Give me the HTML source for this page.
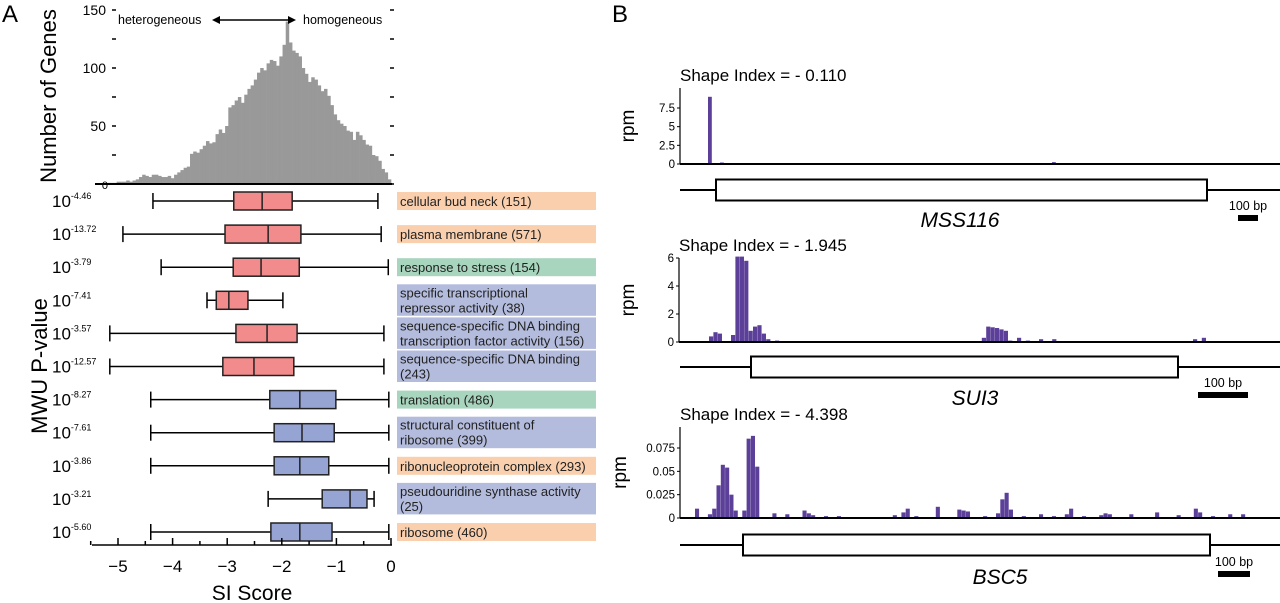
<!DOCTYPE html>
<html><head><meta charset="utf-8"><style>
html,body{margin:0;padding:0;background:#fff}
svg{display:block;font-family:"Liberation Sans",Arial,sans-serif}
</style></head><body>
<svg id="fig" width="1280" height="603" viewBox="0 0 1280 603"></svg>
<script>
// ---- Panel A data ----
const histCounts=[1,1,1,2,2,2,3,2,3,4,6,8,7,6,8,8,7,6,6,7,5,8,10,12,14,15,26,28,27,30,33,37,35,36,43,47,44,50,66,68,72,75,70,77,82,85,90,96,100,98,104,107,106,102,110,120,140,122,115,113,110,100,95,88,92,90,85,80,82,76,68,60,55,52,50,46,45,38,45,42,38,34,33,25,24,20,13,10,4];
const histMin=-5.2, histMax=0;
const histTicks=[0,50,100,150];
const siTicks=[-5,-4,-3,-2,-1,0];
const categories=["cellular bud neck (151)","plasma membrane (571)","response to stress (154)","specific transcriptional|repressor activity (38)","sequence-specific DNA binding|transcription factor activity (156)","sequence-specific DNA binding|(243)","translation (486)","structural constituent of|ribosome (399)","ribonucleoprotein complex (293)","pseudouridine synthase activity|(25)","ribosome (460)"];
const catType=["cc","cc","bp","mf","mf","mf","bp","mf","cc","mf","cc"];
const pExp=["-4.46","-13.72","-3.79","-7.41","-3.57","-12.57","-8.27","-7.61","-3.86","-3.21","-5.60"];
const whiskLo=[-4.36,-4.91,-4.21,-3.37,-5.15,-5.15,-4.40,-4.40,-4.40,-2.25,-4.40];
const q1=[-2.88,-3.04,-2.89,-3.20,-2.84,-3.08,-2.22,-2.14,-2.14,-1.26,-2.20];
const med=[-2.36,-2.25,-2.38,-2.97,-2.27,-2.51,-1.67,-1.63,-1.67,-0.75,-1.67];
const q3=[-1.81,-1.65,-1.68,-2.62,-1.72,-1.78,-1.01,-1.04,-1.14,-0.44,-1.08];
const whiskHi=[-0.24,-0.18,-0.05,-1.98,-0.13,-0.13,-0.04,-0.04,-0.04,-0.31,-0.04];
const boxGroup=["r","r","r","r","r","r","b","b","b","b","b"];
// ---- Panel B data (bin positions in bp-bins, values in rpm) ----
const t1Pos=[0,3,60,86,125];
const t1Val=[9,0.2,0.05,0.25,0.05];
const t2Pos=[0,1,2,5,6,7,8,9,10,11,12,13,15,20,30,40,50,62,63,64,65,66,67,68,70,72,75,78,80,85,95,110,112,118];
const t2Val=[0.4,0.7,0.6,0.5,6.1,6.1,5.8,0.8,1.1,1.2,0.6,0.2,0.1,0.05,0.05,0.05,0.05,0.3,1.1,1.05,1.0,0.9,0.8,0.1,0.3,0.1,0.2,0.2,0.05,0.05,0.05,0.2,0.3,0.05];
const t3Pos=[0,3,4,5,6,7,8,9,11,12,13,14,18,21,25,26,27,30,33,46,48,49,51,56,61,62,63,67,70,71,72,73,76,80,83,86,87,90,94,95,96,101,107,112,116,117,120,124,127];
const t3Val=[0.01,0.004,0.01,0.035,0.057,0.054,0.025,0.008,0.008,0.085,0.088,0.055,0.005,0.004,0.008,0.005,0.003,0.002,0.002,0.003,0.006,0.01,0.002,0.012,0.009,0.008,0.007,0.002,0.005,0.02,0.027,0.009,0.002,0.004,0.002,0.004,0.01,0.002,0.003,0.005,0.004,0.004,0.006,0.003,0.01,0.006,0.002,0.004,0.004];

const NS="http://www.w3.org/2000/svg";
const svg=document.getElementById('fig');
function mk(tag,attrs,parent,text){const e=document.createElementNS(NS,tag);for(const k in attrs)e.setAttribute(k,attrs[k]);if(text!==undefined)e.textContent=text;(parent||svg).appendChild(e);return e;}

const sx=v=>391+v*54.6;
const hy=c=>184-c*1.16;

let t=mk('text',{x:2,y:22,'font-size':24},svg,'A');

t=mk('text',{x:612,y:22,'font-size':24},svg,'B');


// histogram
const hg=mk('g',{});

const bw=(histMax-histMin)/histCounts.length;
histCounts.forEach((c,i)=>{
  const x0=sx(histMin+i*bw),x1=sx(histMin+(i+1)*bw);
  const r=mk('rect',{x:x0,y:hy(c),width:x1-x0+0.3,height:hy(0)-hy(c),fill:'#999'},hg);
  
});
let l=mk('line',{x1:95,x2:392,y1:184,y2:184,stroke:'#000','stroke-width':2});

[0,25,50,75,100,125,150].forEach(v=>{
  mk('line',{x1:112,x2:116,y1:hy(v),y2:hy(v),stroke:'#000','stroke-width':1.5});
  mk('line',{x1:390,x2:394,y1:hy(v),y2:hy(v),stroke:'#000','stroke-width':1.5});
});
histTicks.forEach(v=>{
  const e=mk('text',{x:v===0?108:106,y:hy(v)+5,'font-size':v===0?11:14,'text-anchor':'end'},svg,String(v));
  
});
t=mk('text',{x:0,y:0,'font-size':22,'text-anchor':'middle',transform:'translate(56,96) rotate(-90)'},svg,'Number of Genes');

t=mk('text',{x:118,y:24,'font-size':12.5},svg,'heterogeneous');

t=mk('text',{x:303,y:24,'font-size':12.5},svg,'homogeneous');

l=mk('line',{x1:215,x2:293,y1:20,y2:20,stroke:'#000','stroke-width':1.5});

mk('path',{d:'M212 20 L220 16 L220 24Z M296 20 L288 16 L288 24Z',fill:'#000'});

// boxplots
const colors={cc:'#f9cfad',bp:'#a8d5bd',mf:'#b4bcdd'};
const boxFill={r:'#f28b8b',b:'#96a4d4'};
const dbl=categories.map(c=>c.includes('|'));
categories.forEach((c,i)=>{
  const y=201+i*33.1;
  const g=mk('g',{});
  
  mk('line',{x1:sx(whiskLo[i]),x2:sx(whiskHi[i]),y1:y,y2:y,stroke:'#000','stroke-width':1.5},g);
  mk('line',{x1:sx(whiskLo[i]),x2:sx(whiskLo[i]),y1:y-8,y2:y+8,stroke:'#000','stroke-width':1.5},g);
  mk('line',{x1:sx(whiskHi[i]),x2:sx(whiskHi[i]),y1:y-8,y2:y+8,stroke:'#000','stroke-width':1.5},g);
  const b=mk('rect',{x:sx(q1[i]),y:y-9,width:sx(q3[i])-sx(q1[i]),height:18,fill:boxFill[boxGroup[i]],stroke:'#222','stroke-width':1.5},g);
  
  mk('line',{x1:sx(med[i]),x2:sx(med[i]),y1:y-9,y2:y+9,stroke:'#222','stroke-width':1.5},g);
  const pt=mk('text',{x:52,y:y+6,'font-size':17},svg);
  
  mk('tspan',{},pt,'10');
  mk('tspan',{dy:-8,'font-size':9},pt,pExp[i]);
  const lg=mk('g',{});
  
  const h=dbl[i]?31.5:18;
  mk('rect',{x:397,y:dbl[i]?y-16:y-9,width:199,height:h,fill:colors[catType[i]]},lg);
  const parts=c.split('|');
  if(parts.length===1) mk('text',{x:400,y:y+5,'font-size':13,fill:'#222'},lg,parts[0]);
  else{mk('text',{x:400,y:y-3,'font-size':13,fill:'#222'},lg,parts[0]);mk('text',{x:400,y:y+12,'font-size':13,fill:'#222'},lg,parts[1]);}
});
t=mk('text',{x:0,y:0,'font-size':22,'text-anchor':'middle',transform:'translate(47,366) rotate(-90)'},svg,'MWU P-value');


// x axis
l=mk('line',{x1:92,x2:392,y1:545,y2:545,stroke:'#000','stroke-width':1.5});

for(let v=-5.5;v<=0.01;v+=0.5){mk('line',{x1:sx(v),x2:sx(v),y1:545,y2:Number.isInteger(v)?538:541,stroke:'#000','stroke-width':1.5});}
siTicks.forEach(v=>{
  const e=mk('text',{x:sx(v),y:572,'font-size':17,'text-anchor':'middle'},svg,v===0?'0':'\u2212'+Math.abs(v));
  
});
t=mk('text',{x:252,y:600,'font-size':21,'text-anchor':'middle'},svg,'SI Score');


// ---- Panel B tracks ----
function track(opt,pos,val){
  const g=mk('g',{});
  
  const yy=v=>opt.base-v*opt.k;
  const bx=p=>opt.x0+p*opt.bpx;
  pos.forEach((p,i)=>{
    const r=mk('rect',{x:bx(p),y:yy(val[i]),width:opt.bpx*0.95,height:opt.base-yy(val[i]),fill:'#5b3f98'},g);
    
  });
  mk('line',{x1:opt.ax,x2:1280,y1:opt.base,y2:opt.base,stroke:'#000','stroke-width':2},g);
  mk('line',{x1:opt.ax,x2:opt.ax,y1:opt.base,y2:opt.top,stroke:'#000','stroke-width':1.2},g);
  opt.ticks.forEach((tv,j)=>{
    mk('line',{x1:opt.ax-3,x2:opt.ax,y1:yy(tv),y2:yy(tv),stroke:'#000'},g);
    mk('text',{x:opt.ax-5,y:yy(tv)+4,'font-size':11.5,'text-anchor':'end'},g,opt.tl[j]);
  });
  mk('text',{x:0,y:0,'font-size':19,'text-anchor':'middle',transform:`translate(${opt.rpmx},${(opt.base+opt.top)/2}) rotate(-90)`},g,'rpm');
  mk('text',{x:opt.ax,y:opt.top-7,'font-size':17},g,opt.title);
  mk('line',{x1:680,x2:1280,y1:opt.gy,y2:opt.gy,stroke:'#000','stroke-width':2},g);
  mk('rect',{x:opt.g0,y:opt.gy-10.5,width:opt.g1-opt.g0,height:21,fill:'#fff',stroke:'#000','stroke-width':2},g);
  mk('text',{x:opt.nx,y:opt.ny,'font-size':21,'font-style':'italic','text-anchor':'middle'},g,opt.gene);
  mk('rect',{x:opt.sb0,y:opt.sby,width:opt.sb1-opt.sb0,height:6,fill:'#000'},g);
  mk('text',{x:(opt.sb0+opt.sb1)/2,y:opt.sby-5,'font-size':12.5,'text-anchor':'middle'},g,'100 bp');
}
track({name:'track-mss116',x0:708,bpx:4,base:164,k:56/7.5,top:88,ax:680,ticks:[0,2.5,5,7.5],tl:['0','2.5','5','7.5'],rpmx:634,title:'Shape Index = - 0.110',gy:190,g0:716,g1:1207,gene:'MSS116',nx:960,ny:227,sb0:1238,sb1:1258,sby:215},t1Pos,t1Val);
track({name:'track-sui3',x0:709,bpx:4.4,base:342,k:14,top:258,ax:679,ticks:[0,2,4,6],tl:['0','2','4','6'],rpmx:634,title:'Shape Index = - 1.945',gy:367,g0:751,g1:1178,gene:'SUI3',nx:975,ny:405,sb0:1198,sb1:1248,sby:392},t2Pos,t2Val);
track({name:'track-bsc5',x0:695,bpx:4.3,base:518,k:70/0.075,top:427,ax:680,ticks:[0,0.025,0.05,0.075],tl:['0','0.025','0.05','0.075'],rpmx:626,title:'Shape Index = - 4.398',gy:545,g0:743,g1:1210,gene:'BSC5',nx:1000,ny:584,sb0:1218,sb1:1250,sby:571},t3Pos,t3Val);
</script>
</body></html>
